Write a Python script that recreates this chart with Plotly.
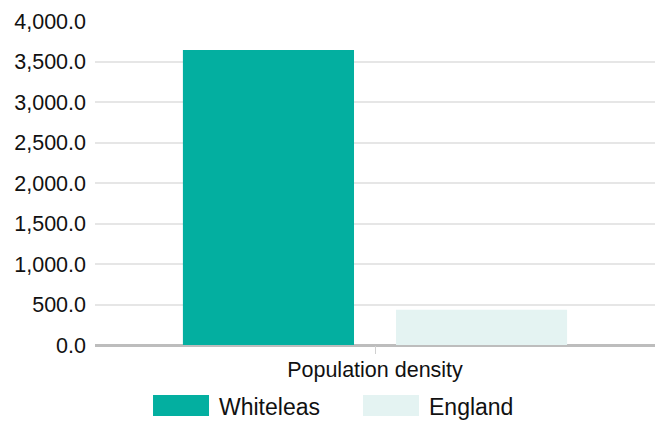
import plotly.graph_objects as go

categories = ["Population density"]
series_names = ["Whiteleas", "England"]
whiteleas_values = [3642.0]
england_values = [434.0]
series_colors = ["#03AFA0", "#E4F3F2"]
y_tick_values = [0, 500, 1000, 1500, 2000, 2500, 3000, 3500, 4000]
y_tick_labels = ["0.0", "500.0", "1,000.0", "1,500.0", "2,000.0", "2,500.0", "3,000.0", "3,500.0", "4,000.0"]

FONT = "Liberation Sans, Arial, sans-serif"

fig = go.Figure()
for name, vals, col in zip(series_names, [whiteleas_values, england_values], series_colors):
    fig.add_trace(go.Bar(x=categories, y=vals, name=name, marker=dict(color=col, line=dict(width=0)),
                         showlegend=False, hoverinfo="skip"))

fig.update_layout(
    width=659, height=421,
    margin=dict(l=95, r=4, t=21, b=76),
    paper_bgcolor="white", plot_bgcolor="white",
    barmode="group", bargap=0.239, bargroupgap=0.197,
    font=dict(family=FONT, size=21.5, color="#111111"),
    xaxis=dict(showgrid=False, ticks="outside", ticklen=8, tickcolor="#d0d0d0", tickwidth=1,
               tickfont=dict(size=21.5, color="#111111"), showline=False, zeroline=False,
               ticklabelstandoff=-3, fixedrange=True),
    yaxis=dict(range=[0, 4000], tickvals=y_tick_values, ticktext=y_tick_labels,
               showgrid=True, gridcolor="#e6e6e6", gridwidth=2,
               zeroline=True, zerolinecolor="#bdbdbd", zerolinewidth=3,
               ticks="", ticklabelstandoff=8, tickfont=dict(size=21.5, color="#111111"), fixedrange=True),
    showlegend=False,
)

# Custom legend (wide swatches)
legend_y = -0.187
swatch_h = 0.065
legend_items = [(0.1036, 0.2036, 0.2176), (0.4786, 0.5786, 0.5926)]
for (x0, x1, tx), name, col in zip(legend_items, series_names, series_colors):
    fig.add_shape(type="rect", xref="paper", yref="paper", x0=x0, x1=x1,
                  y0=legend_y - swatch_h / 2, y1=legend_y + swatch_h / 2,
                  fillcolor=col, line=dict(width=0))
    fig.add_annotation(xref="paper", yref="paper", x=tx, y=legend_y - 0.004, text=name, showarrow=False,
                       xanchor="left", yanchor="middle", font=dict(size=23, color="#111111", family=FONT))

fig.write_html("out.html", config={"displayModeBar": False},
               post_script="document.body.style.margin='0';document.body.style.overflow='hidden';")
